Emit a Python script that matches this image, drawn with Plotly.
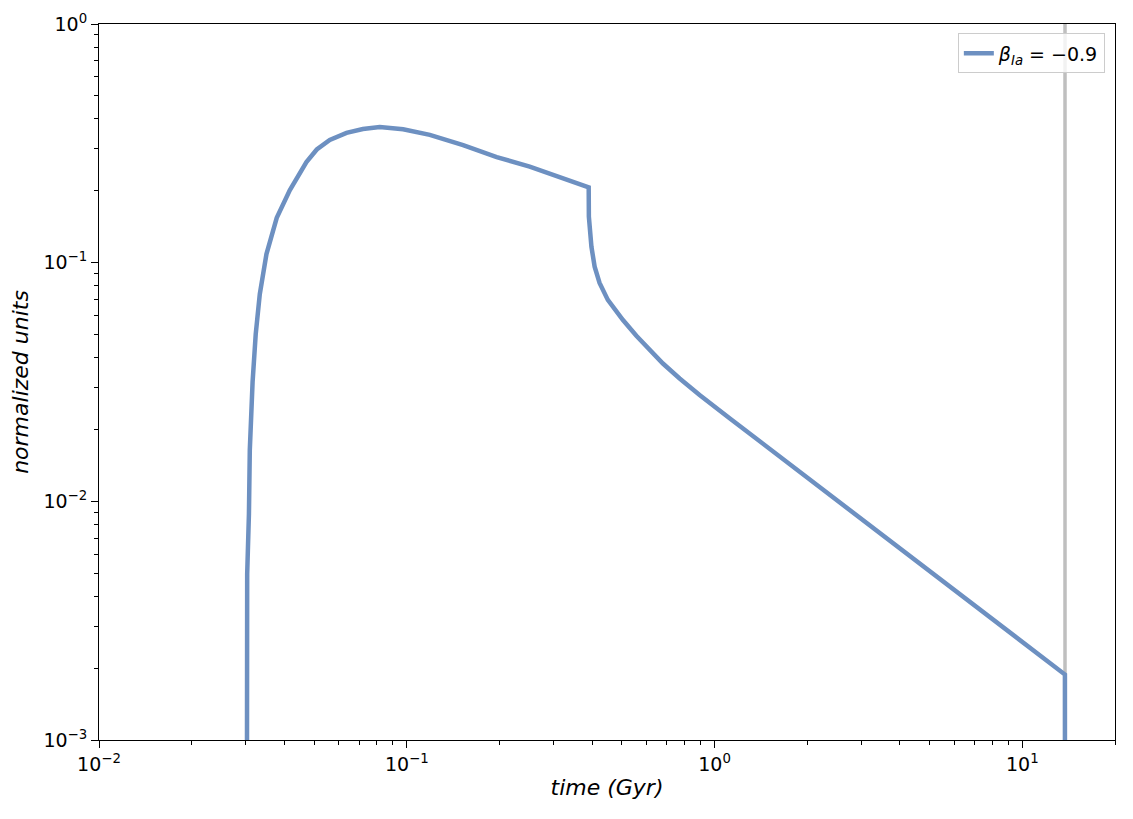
import plotly.graph_objects as go

# delay time distribution values (time in Gyr)
time_gyr = [0.0302, 0.0303, 0.0307, 0.0309, 0.03155, 0.0323, 0.0333, 0.0350,
            0.0378, 0.0417, 0.0472, 0.051, 0.0562, 0.060, 0.0637, 0.072, 0.0817,
            0.0973, 0.1188, 0.1524, 0.196, 0.2508, 0.321, 0.390, 0.3905, 0.398,
            0.4077, 0.423, 0.450, 0.504, 0.557, 0.600, 0.6795, 0.770, 0.894,
            1.119, 1.472, 2.422, 2.744, 4.243, 6.565, 7.815, 10.0, 13.75, 13.76]
rate = [0.0001, 0.00496, 0.00885, 0.0164, 0.0316, 0.0502, 0.0739, 0.1087,
        0.154, 0.2015, 0.264, 0.298, 0.327, 0.340, 0.350, 0.363, 0.370,
        0.362, 0.343, 0.311, 0.277, 0.2524, 0.226, 0.207, 0.156, 0.1167,
        0.0962, 0.0822, 0.0698, 0.0575, 0.0494, 0.0447, 0.0378, 0.0327, 0.0279,
        0.0223, 0.0170, 0.0104, 0.0092, 0.00597, 0.0039, 0.00328, 0.00258, 0.00188, 0.0001]

t_hubble = 13.76
x_major = [0.01, 0.1, 1, 10]
x_major_text = ["10<sup>−2</sup>", "10<sup>−1</sup>", "10<sup>0</sup>", "10<sup>1</sup>"]
y_major = [0.001, 0.01, 0.1, 1]
y_major_text = ["10<sup>−3</sup>", "10<sup>−2</sup>", "10<sup>−1</sup>", "10<sup>0</sup>"]

x_minor = [k * 10 ** p for p in (-2, -1, 0, 1) for k in range(2, 10) if k * 10 ** p <= 20]
y_minor = [k * 10 ** p for p in (-3, -2, -1) for k in range(2, 10)]

fig = go.Figure()

fig.add_trace(go.Scatter(
    x=time_gyr, y=rate, mode="lines", name="<i>β</i><sub><i>Ia</i></sub> = −0.9",
    line=dict(color="#6d90c1", width=4.5)))

# present-day marker
fig.add_vline(x=t_hubble, line=dict(color="#bfbfbf", width=3.5), layer="below")

axis_common = dict(
    showline=True, linecolor="black", linewidth=1, mirror=True,
    ticks="outside", ticklen=7, tickwidth=1, tickcolor="black",
    showgrid=False, zeroline=False, automargin=False,
    tickfont=dict(family="DejaVu Sans", size=19, color="black"))

fig.update_xaxes(type="log", range=[-2, 1.30103], tickvals=x_major, ticktext=x_major_text,
                 minor=dict(ticks="outside", ticklen=4, tickcolor="black", tickvals=x_minor),
                 title=dict(text="<i>time (Gyr)</i>", font=dict(family="DejaVu Sans", size=22, color="black"),
                            standoff=5),
                 **axis_common)
fig.update_yaxes(type="log", range=[-3, 0], tickvals=y_major, ticktext=y_major_text,
                 minor=dict(ticks="outside", ticklen=4, tickcolor="black", tickvals=y_minor),
                 title=dict(text="<i>normalized units</i>", font=dict(family="DejaVu Sans", size=22, color="black"),
                            standoff=14),
                 **axis_common)

# page body adds an 8px offset, so the figure is sized and margined to compensate
fig.update_layout(
    width=1125, height=811,
    margin=dict(l=91, r=18, t=16, b=79),
    plot_bgcolor="white", paper_bgcolor="white",
    font=dict(family="DejaVu Sans", color="black"),
    showlegend=True,
    legend=dict(x=0.990, y=0.987, xanchor="right", yanchor="top",
                bgcolor="rgba(255,255,255,0.8)", bordercolor="#cccccc", borderwidth=1,
                font=dict(family="DejaVu Sans", size=19, color="black")))

fig.write_html("out.html")
